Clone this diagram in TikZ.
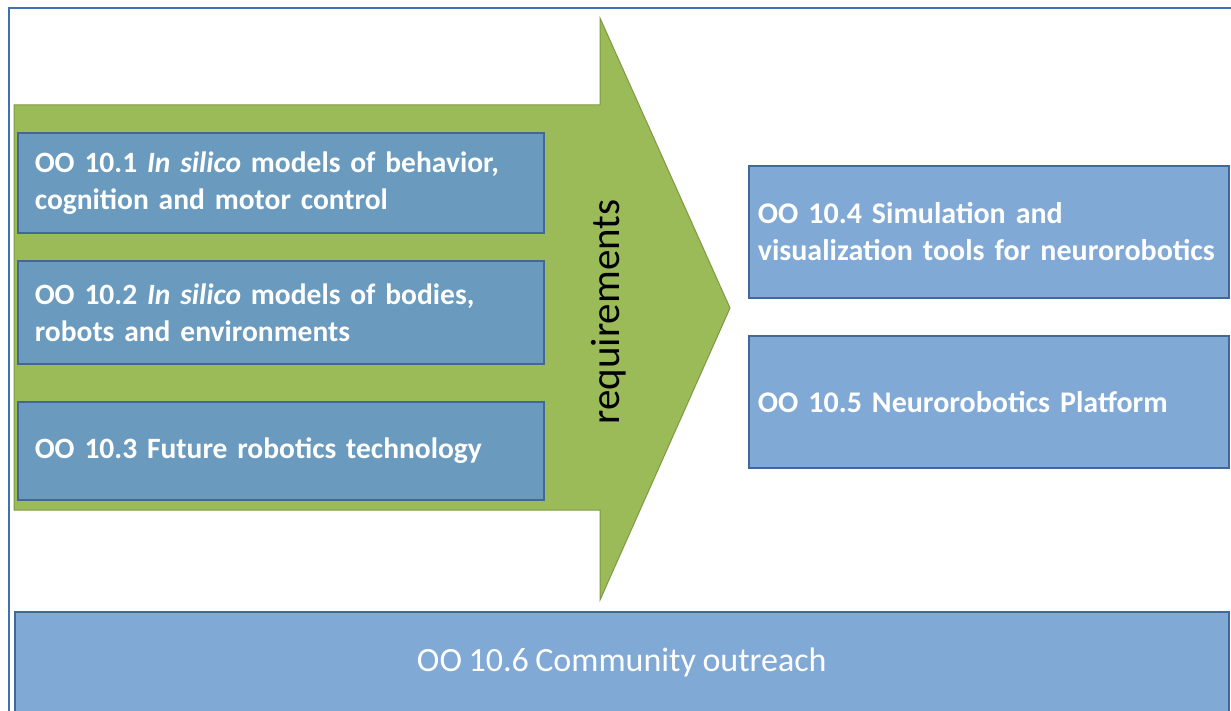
\documentclass[tikz,border=0pt]{standalone}
\usepackage{fontspec}
\setmainfont[WordSpace=0.85]{Carlito}
\begin{document}
\begin{tikzpicture}[x=1pt,y=-1pt]
\definecolor{arrgreen}{HTML}{9BBB59}
\definecolor{arrline}{HTML}{7C9A41}
\definecolor{boxL}{HTML}{6A9BBF}
\definecolor{boxR}{HTML}{80A9D6}
\definecolor{boxline}{HTML}{42689A}
\definecolor{frameblue}{HTML}{3F6FB5}
\tikzset{
  ibox/.style={draw=boxline, line width=1.6pt, anchor=north west,
    align=left, text=white},
  leftbox/.style={ibox, fill=boxL, minimum width=526pt, minimum height=100pt,
    inner xsep=17pt, text width=492pt, font=\bfseries\fontsize{29.5}{37}\selectfont},
  rightbox/.style={ibox, fill=boxR, minimum width=480pt, minimum height=132pt,
    inner xsep=9pt, text width=462pt, font=\bfseries\fontsize{30}{37}\selectfont},
}
\useasboundingbox (0,0) rectangle (1231,711);
\fill[white] (0,0) rectangle (1231,711);
% outer frame
\draw[frameblue, line width=1.3pt] (9,711) -- (9,8) -- (1231,8);
% big arrow
\path[fill=arrgreen, draw=arrline, line width=1pt]
  (14,105) -- (600,105) -- (600,18) -- (730,308) -- (600,600) -- (600,510) -- (14,510) -- cycle;
\node[rotate=90, font=\fontsize{41}{48}\selectfont] (req) at (609,312) {requirements};
% left boxes
\node[leftbox] (b1) at (17,132) {OO 10.1 \textit{In silico} models of behavior,\\cognition and motor control};
\node[leftbox, minimum height=103pt] (b2) at (17,260) {OO 10.2 \textit{In silico} models of bodies,\\robots and environments};
\node[leftbox, minimum height=98pt] (b3) at (17,401) {OO 10.3 Future robotics technology};
% right boxes
\node[rightbox] (b4) at (748,165) {OO 10.4 Simulation and\\visualization tools for neurorobotics};
\node[rightbox] (b5) at (748,335) {OO 10.5 Neurorobotics Platform};
% bottom box
\node[draw=boxline, line width=1.6pt, fill=boxR, anchor=north west, minimum width=1214pt,
  minimum height=101pt, text=white, font=\fontsize{34}{40}\selectfont] (b6) at (14,611) {OO 10.6 Community outreach};
\end{tikzpicture}
\end{document}
